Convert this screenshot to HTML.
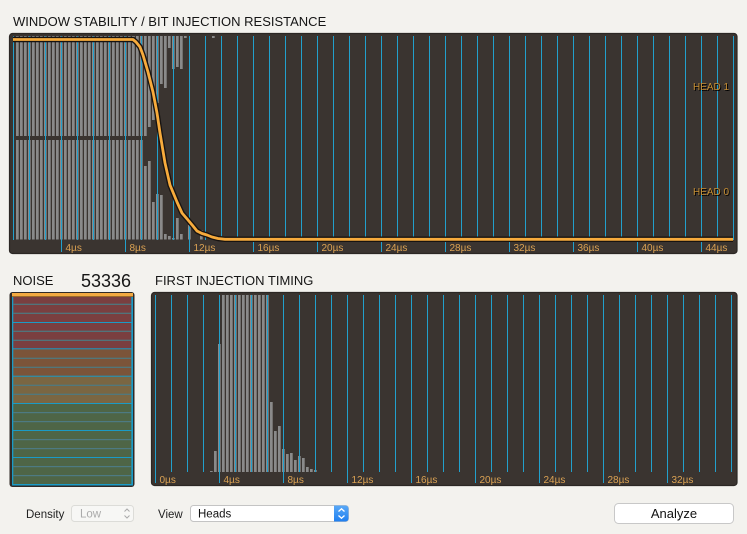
<!DOCTYPE html>
<html>
<head>
<meta charset="utf-8">
<style>
html,body{margin:0;padding:0;background:#f3f2ee;}
svg{display:block;}
text{font-family:"Liberation Sans",sans-serif;}
</style>
</head>
<body>
<svg width="747" height="534" viewBox="0 0 747 534" xmlns="http://www.w3.org/2000/svg">
<defs>
  <pattern id="tb" x="0" y="0" width="4" height="600" patternUnits="userSpaceOnUse">
    <rect x="0" y="0" width="2.7" height="600" fill="#8a8a8a"/>
  </pattern>
  <pattern id="vl" x="13" y="0" width="16" height="600" patternUnits="userSpaceOnUse">
    <rect x="0" y="0" width="1" height="600" fill="#22a0cc"/>
  </pattern>
  <pattern id="vl2" x="155" y="0" width="16" height="600" patternUnits="userSpaceOnUse">
    <rect x="0" y="0" width="1" height="600" fill="#22a0cc"/>
  </pattern>
  <linearGradient id="blueg" x1="0" y1="0" x2="0" y2="1">
    <stop offset="0" stop-color="#5aa9f7"/>
    <stop offset="1" stop-color="#1f7ff0"/>
  </linearGradient>
</defs>

<!-- Title -->
<text x="13" y="26" font-size="13" fill="#151515">WINDOW STABILITY / BIT INJECTION RESISTANCE</text>

<!-- Top chart frame -->
<rect x="9.5" y="33.5" width="727.5" height="220" rx="3" fill="#3a3430" stroke="#2b2724" stroke-width="1.2"/>

<!-- Upper half bars (hang from top) -->
<rect x="16" y="36" width="131" height="100" fill="url(#tb)"/>
<g fill="#8a8a8a">
  <rect x="148" y="36" width="2.7" height="91"/>
  <rect x="152" y="36" width="2.7" height="84"/>
  <rect x="156" y="36" width="2.7" height="67"/>
  <rect x="160" y="36" width="2.7" height="48"/>
  <rect x="164" y="36" width="2.7" height="52"/>
  <rect x="168" y="36" width="2.7" height="12"/>
  <rect x="172" y="36" width="2.7" height="33"/>
  <rect x="176" y="36" width="2.7" height="31"/>
  <rect x="180" y="36" width="2.7" height="33"/>
  <rect x="184" y="36" width="2.7" height="2"/>
  <rect x="212" y="36" width="2.7" height="2"/>
</g>
<!-- Lower half bars (grow from bottom) -->
<rect x="16" y="140" width="127" height="99.5" fill="url(#tb)"/>
<g fill="#8a8a8a">
  <rect x="144" y="166" width="2.7" height="73.5"/>
  <rect x="148" y="161" width="2.7" height="78.5"/>
  <rect x="152" y="202" width="2.7" height="37.5"/>
  <rect x="156" y="194" width="2.7" height="45.5"/>
  <rect x="160" y="195" width="2.7" height="44.5"/>
  <rect x="164" y="234" width="2.7" height="5.5"/>
  <rect x="168" y="236" width="2.7" height="3.5"/>
  <rect x="172" y="238" width="2.7" height="1.5"/>
  <rect x="176" y="218" width="2.7" height="21.5"/>
  <rect x="180" y="234" width="2.7" height="5.5"/>
  <rect x="188" y="225" width="2.7" height="14.5"/>
  <rect x="200" y="230" width="2.7" height="9.5"/>
</g>

<!-- vertical grid lines -->
<rect x="13" y="36" width="721" height="204" fill="url(#vl)"/>
<g fill="#22a0cc">
  <rect x="61" y="240" width="1" height="12"/>
  <rect x="125" y="240" width="1" height="12"/>
  <rect x="189" y="240" width="1" height="12"/>
  <rect x="253" y="240" width="1" height="12"/>
  <rect x="317" y="240" width="1" height="12"/>
  <rect x="381" y="240" width="1" height="12"/>
  <rect x="445" y="240" width="1" height="12"/>
  <rect x="509" y="240" width="1" height="12"/>
  <rect x="573" y="240" width="1" height="12"/>
  <rect x="637" y="240" width="1" height="12"/>
  <rect x="701" y="240" width="1" height="12"/>
</g>

<!-- orange curve -->
<polyline fill="none" stroke="#171311" stroke-width="5.5" stroke-linejoin="round" stroke-linecap="butt"
  points="13,39.5 133,39.5 136,42 140,47 143,55 148,72 153,92 157,113 160,133 165,163 170,185 177,202 182,213 188,220 193,226 197,231 202,233.5 207,235 212,237 218,238.5 225,239.3 733,239.3"/>
<polyline fill="none" stroke="#f7ab3c" stroke-width="2.8" stroke-linejoin="round" stroke-linecap="butt"
  points="13,39.5 133,39.5 136,42 140,47 143,55 148,72 153,92 157,113 160,133 165,163 170,185 177,202 182,213 188,220 193,226 197,231 202,233.5 207,235 212,237 218,238.5 225,239.3 733,239.3"/>

<!-- tick labels top -->
<g font-size="10" fill="#dba253">
  <text x="65.5" y="251">4µs</text>
  <text x="129.5" y="251">8µs</text>
  <text x="193.5" y="251">12µs</text>
  <text x="257.5" y="251">16µs</text>
  <text x="321.5" y="251">20µs</text>
  <text x="385.5" y="251">24µs</text>
  <text x="449.5" y="251">28µs</text>
  <text x="513.5" y="251">32µs</text>
  <text x="577.5" y="251">36µs</text>
  <text x="641.5" y="251">40µs</text>
  <text x="705.5" y="251">44µs</text>
</g>

<!-- HEAD labels -->
<g font-size="10">
  <text x="694" y="91" fill="#000">HEAD 1</text>
  <text x="693" y="90" fill="#c58e34">HEAD 1</text>
  <text x="694" y="196" fill="#000">HEAD 0</text>
  <text x="693" y="195" fill="#c58e34">HEAD 0</text>
</g>

<!-- NOISE label -->
<text x="13" y="285" font-size="13" fill="#151515">NOISE</text>
<text x="131" y="287" font-size="18" fill="#151515" text-anchor="end">53336</text>
<text x="155" y="285" font-size="13" fill="#151515">FIRST INJECTION TIMING</text>

<!-- Noise panel -->
<rect x="9.5" y="292" width="125" height="195" rx="3" fill="#2f2a27"/>
<rect x="12" y="293" width="121" height="192.5" fill="#1a9bc6"/>
<rect x="13.3" y="297" width="118" height="25" fill="#7a3f40"/>
<rect x="13.3" y="323" width="118" height="25.3" fill="#7a3f40"/>
<rect x="13.3" y="349.3" width="118" height="26.4" fill="#7b5439"/>
<rect x="13.3" y="376.7" width="118" height="26.3" fill="#7a6642"/>
<rect x="13.3" y="404" width="118" height="26" fill="#4e6546"/>
<rect x="13.3" y="431" width="118" height="26" fill="#4e6546"/>
<rect x="13.3" y="458" width="118" height="26" fill="#4e6546"/>
<g fill="#4d7a82">
  <rect x="13.3" y="303.7" width="118" height="1.2"/>
  <rect x="13.3" y="312.7" width="118" height="1.2"/>
  <rect x="13.3" y="330.7" width="118" height="1.2"/>
  <rect x="13.3" y="339.7" width="118" height="1.2"/>
  <rect x="13.3" y="357.7" width="118" height="1.2"/>
  <rect x="13.3" y="366.7" width="118" height="1.2"/>
  <rect x="13.3" y="384.7" width="118" height="1.2"/>
  <rect x="13.3" y="393.7" width="118" height="1.2"/>
  <rect x="13.3" y="412" width="118" height="1.2"/>
  <rect x="13.3" y="421" width="118" height="1.2"/>
  <rect x="13.3" y="439" width="118" height="1.2"/>
  <rect x="13.3" y="448" width="118" height="1.2"/>
  <rect x="13.3" y="466" width="118" height="1.2"/>
  <rect x="13.3" y="475" width="118" height="1.2"/>
</g>
<rect x="12" y="293" width="121" height="3" fill="#f3aa42"/>
<rect x="12" y="296" width="121" height="1" fill="#9a6a2c"/>

<!-- Bottom chart frame -->
<rect x="151.5" y="292.5" width="585.5" height="193" rx="3" fill="#3a3430" stroke="#2b2724" stroke-width="1.2"/>
<g fill="#8a8a8a">
  <rect x="210" y="471" width="2.7" height="1"/>
  <rect x="214" y="451" width="2.7" height="21"/>
  <rect x="218" y="344" width="2.7" height="128"/>
  <rect x="222" y="295" width="2.7" height="177"/>
  <rect x="226" y="295" width="2.7" height="177"/>
  <rect x="230" y="295" width="2.7" height="177"/>
  <rect x="234" y="295" width="2.7" height="177"/>
  <rect x="238" y="295" width="2.7" height="177"/>
  <rect x="242" y="295" width="2.7" height="177"/>
  <rect x="246" y="295" width="2.7" height="177"/>
  <rect x="250" y="295" width="2.7" height="177"/>
  <rect x="254" y="295" width="2.7" height="177"/>
  <rect x="258" y="295" width="2.7" height="177"/>
  <rect x="262" y="295" width="2.7" height="177"/>
  <rect x="266" y="295" width="2.7" height="177"/>
  <rect x="270" y="402" width="2.7" height="70"/>
  <rect x="274" y="431" width="2.7" height="41"/>
  <rect x="278" y="426" width="2.7" height="46"/>
  <rect x="282" y="449" width="2.7" height="23"/>
  <rect x="286" y="454" width="2.7" height="18"/>
  <rect x="290" y="453" width="2.7" height="19"/>
  <rect x="294" y="460" width="2.7" height="12"/>
  <rect x="298" y="456" width="2.7" height="16"/>
  <rect x="302" y="458" width="2.7" height="14"/>
  <rect x="306" y="467" width="2.7" height="5"/>
  <rect x="310" y="469" width="2.7" height="3"/>
  <rect x="314" y="470" width="2.7" height="2"/>
</g>
<rect x="155" y="295" width="577" height="177" fill="url(#vl2)"/>
<g fill="#22a0cc">
  <rect x="155" y="472" width="1" height="11"/>
  <rect x="219" y="472" width="1" height="11"/>
  <rect x="283" y="472" width="1" height="11"/>
  <rect x="347" y="472" width="1" height="11"/>
  <rect x="411" y="472" width="1" height="11"/>
  <rect x="475" y="472" width="1" height="11"/>
  <rect x="539" y="472" width="1" height="11"/>
  <rect x="603" y="472" width="1" height="11"/>
  <rect x="667" y="472" width="1" height="11"/>
</g>
<g font-size="10" fill="#dba253">
  <text x="159.5" y="483">0µs</text>
  <text x="223.5" y="483">4µs</text>
  <text x="287.5" y="483">8µs</text>
  <text x="351.5" y="483">12µs</text>
  <text x="415.5" y="483">16µs</text>
  <text x="479.5" y="483">20µs</text>
  <text x="543.5" y="483">24µs</text>
  <text x="607.5" y="483">28µs</text>
  <text x="671.5" y="483">32µs</text>
</g>

<!-- Controls -->
<text x="26" y="518" font-size="11.5" fill="#222">Density</text>
<rect x="71.5" y="505.5" width="62" height="16" rx="3" fill="#f7f7f5" stroke="#dcdcd8"/>
<text x="80" y="517.5" font-size="11.5" fill="#ababab">Low</text>
<polyline points="124.5,511.5 127,509 129.5,511.5" fill="none" stroke="#aaa" stroke-width="1"/>
<polyline points="124.5,515.5 127,518 129.5,515.5" fill="none" stroke="#aaa" stroke-width="1"/>

<text x="158" y="518" font-size="11.5" fill="#222">View</text>
<rect x="190.5" y="505.5" width="158" height="16" rx="3" fill="#ffffff" stroke="#c4c4c4"/>
<path d="M334,505.5 H345.5 A3,3 0 0 1 348.5,508.5 V518.5 A3,3 0 0 1 345.5,521.5 H334 Z" fill="url(#blueg)"/>
<polyline points="338.5,511.5 341.5,508.8 344.5,511.5" fill="none" stroke="#fff" stroke-width="1.3"/>
<polyline points="338.5,515.5 341.5,518.2 344.5,515.5" fill="none" stroke="#fff" stroke-width="1.3"/>
<text x="198" y="517.5" font-size="11.5" fill="#111">Heads</text>

<rect x="614.5" y="503.5" width="119" height="20" rx="4" fill="#ffffff" stroke="#c8c8c8"/>
<text x="674" y="518" font-size="13" fill="#111" text-anchor="middle">Analyze</text>
</svg>
</body>
</html>
